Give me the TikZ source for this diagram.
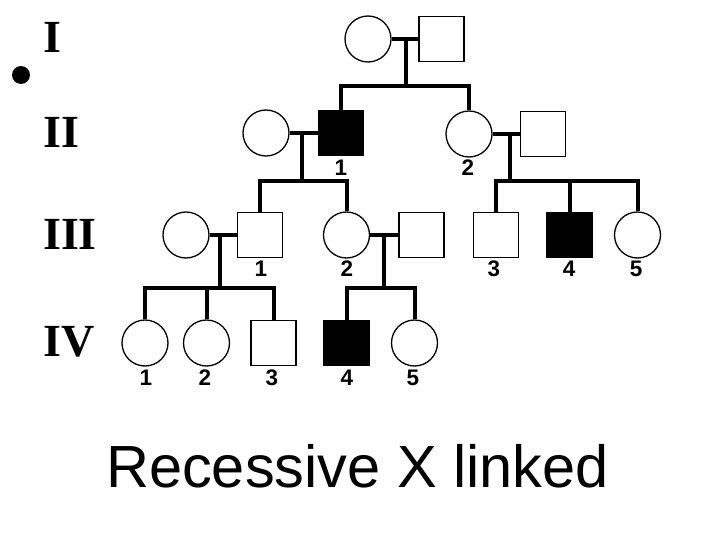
\documentclass[tikz,border=0pt]{standalone}
\usepackage{fontspec}
\setmainfont{Liberation Serif}
\newfontfamily\arialfont{Liberation Sans}
\begin{document}
\begin{tikzpicture}[x=1pt,y=-1pt,
 fem/.style={circle,draw,line width=1.3pt,minimum size=46pt,inner sep=0pt,fill=white},
 mal/.style={rectangle,draw,line width=1.3pt,minimum size=45pt,inner sep=0pt,fill=white},
 aff/.style={fill=black},
 link/.style={line width=4pt,line join=miter},
 gen/.style={font=\fontsize{46}{46}\selectfont\bfseries,anchor=west,inner sep=0pt},
 num/.style={font=\arialfont\bfseries\fontsize{22.5}{22.5}\selectfont,inner sep=0pt},
 title/.style={font=\arialfont\fontsize{59.5}{59.5}\selectfont,anchor=base,inner sep=0pt}]
\useasboundingbox[fill=white] (0,0) rectangle (720,540);
% generation labels
\node[gen] (gI) at (43,37.5) {I};
\node[gen] (gII) at (43,132.5) {II};
\node[gen] (gIII) at (43,234) {III};
\node[gen] (gIV) at (43,342) {IV};
\node[circle,fill=black,minimum size=18pt,inner sep=0pt] (dot) at (21,75) {};
% generation I
\node[fem] (I1) at (368,39) {};
\node[mal] (I2) at (441.5,39) {};
% generation II
\node[fem] (W0) at (266,133) {};
\node[mal,aff] (II1) at (341,133) {};
\node[fem] (II2) at (469,134) {};
\node[mal] (S2) at (543,134) {};
% generation III
\node[fem] (W1) at (186,235) {};
\node[mal] (III1) at (260,235) {};
\node[fem] (III2) at (346.5,235) {};
\node[mal] (H2) at (421.5,235) {};
\node[mal] (III3) at (496,235) {};
\node[mal,aff] (III4) at (569.5,235) {};
\node[fem] (III5) at (637.5,235) {};
% generation IV
\node[fem] (IV1) at (145,343) {};
\node[fem] (IV2) at (206.5,343) {};
\node[mal] (IV3) at (273.5,343) {};
\node[mal,aff] (IV4) at (346.5,343) {};
\node[fem] (IV5) at (414.5,343) {};
% number labels
\node[num] (nII1) at (341,168) {1};
\node[num] (nII2) at (468,168) {2};
\node[num] (nIII1) at (261,269) {1};
\node[num] (nIII2) at (347,269) {2};
\node[num] (nIII3) at (494,269) {3};
\node[num] (nIII4) at (569,269) {4};
\node[num] (nIII5) at (636,269) {5};
\node[num] (nIV1) at (146,378) {1};
\node[num] (nIV2) at (205,378) {2};
\node[num] (nIV3) at (272,378) {3};
\node[num] (nIV4) at (347,378) {4};
\node[num] (nIV5) at (413,378) {5};
% title
\node[title] (ttl) at (357.5,487) {Recessive X linked};
% marriage and descent coordinates
\coordinate (m1) at (406,39);
\coordinate (s1) at (406,86);
\coordinate (m2) at (302,133);
\coordinate (s2) at (302,181);
\coordinate (m3) at (510,134);
\coordinate (s3) at (510,181);
\coordinate (m4) at (220,235);
\coordinate (s4) at (220,288);
\coordinate (m5) at (384,235);
\coordinate (s5) at (384,288);
% connectors
\draw[link] (I1.east) -- (I2.west);
\draw[link] (m1) -- (s1);
\draw[link] (II1.north) |- (s1) -| (II2.north);
\draw[link] (W0.east) -- (II1.west);
\draw[link] (m2) -- (s2);
\draw[link] (III1.north) |- (s2) -| (III2.north);
\draw[link] (II2.east) -- (S2.west);
\draw[link] (m3) -- (s3);
\draw[link] (III3.north) |- (s3) -| (III5.north);
\draw[link] (III4.north) -- (III4.north |- s3);
\draw[link] (W1.east) -- (III1.west);
\draw[link] (m4) -- (s4);
\draw[link] (IV1.north) |- (s4) -| (IV3.north);
\draw[link] (IV2.north) -- (IV2.north |- s4);
\draw[link] (III2.east) -- (H2.west);
\draw[link] (m5) -- (s5);
\draw[link] (IV4.north) |- (s5) -| (IV5.north);
\end{tikzpicture}
\end{document}
